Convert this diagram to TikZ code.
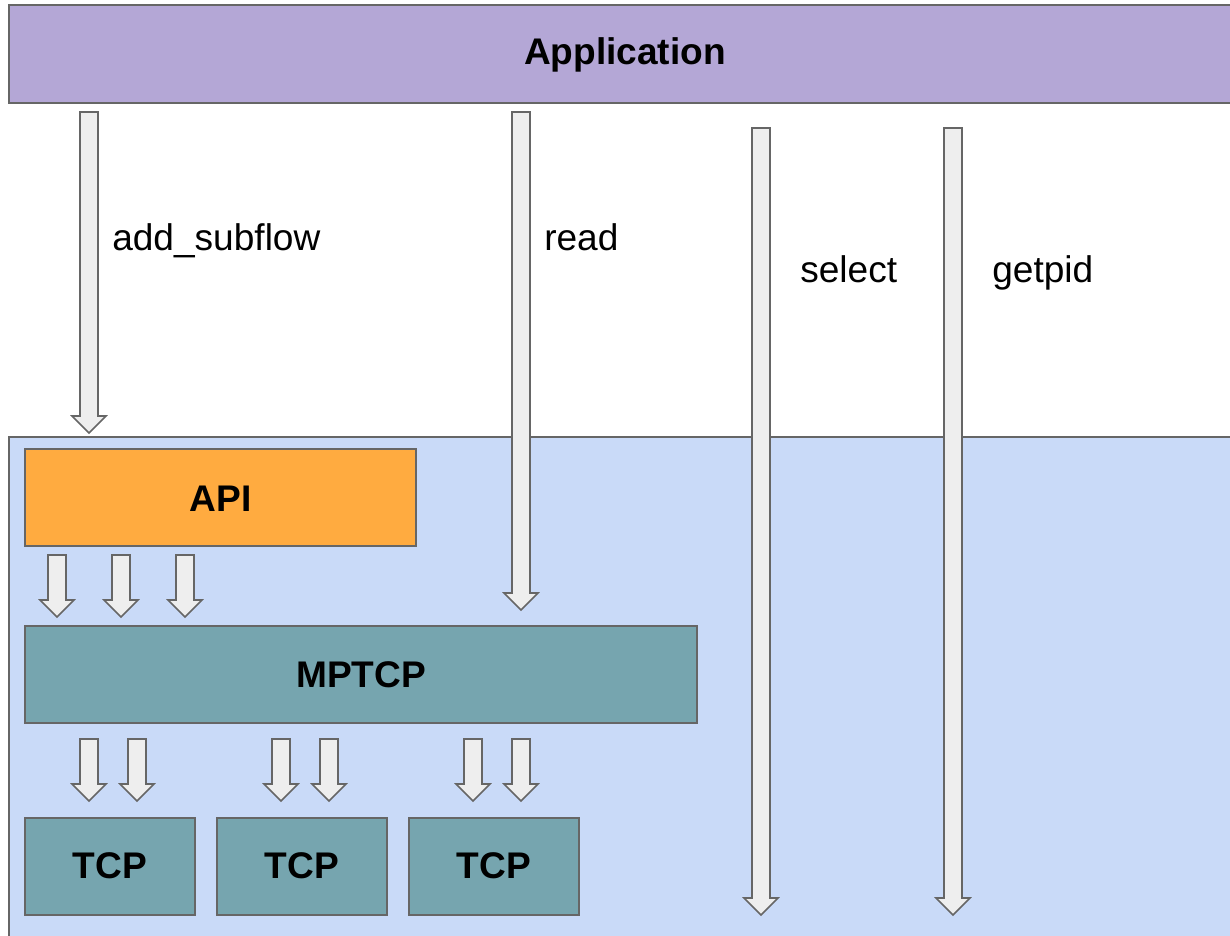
\documentclass[tikz,border=0pt]{standalone}
\usepackage{fontspec}
\setmainfont{Liberation Sans}
\usepackage{tikz}

\definecolor{appfill}{HTML}{B4A7D6}
\definecolor{kernfill}{HTML}{C9DAF8}
\definecolor{apifill}{HTML}{FFAB40}
\definecolor{tcpfill}{HTML}{76A5AF}
\definecolor{arrfill}{HTML}{EEEEEE}
\definecolor{edgegray}{HTML}{666666}

\tikzset{
  layerbox/.style={draw=edgegray,line width=1.5pt,inner sep=0pt},
  layername/.style={inner sep=0pt,font=\fontsize{27.8}{33}\selectfont\bfseries},
  callname/.style={anchor=base west,inner sep=0.75pt,font=\fontsize{27.8}{33}\selectfont},
  blockarr/.style={draw=edgegray,fill=arrfill,line width=1.2pt,line join=miter}
}

% block arrow: centre x, top y, tip y
\newcommand{\blockarrow}[3]{%
  \draw[blockarr] ({#1-9},#2) -- ({#1+9},#2) -- ({#1+9},{#3-17}) -- ({#1+17},{#3-17})
    -- (#1,#3) -- ({#1-17},{#3-17}) -- ({#1-9},{#3-17}) -- cycle ;}

\begin{document}
\begin{tikzpicture}[x=0.75pt,y=0.75pt,yscale=-1]
\useasboundingbox (0,0) rectangle (1230,935);
\fill[white] (0,0) rectangle (1230,935);

%Shape: Rectangle [id:app]
\draw[layerbox,fill=appfill] (9,5) rectangle (1240,103);
\node (app) at (625,55) [layername] {Application};
%Shape: Rectangle [id:kernel]
\draw[layerbox,fill=kernfill] (9,437) rectangle (1240,945);

% Boxes
\draw[layerbox,fill=apifill] (25,449) rectangle (416,546);
\node (api) at (220.5,499) [layername] {API};
\draw[layerbox,fill=tcpfill] (25,626) rectangle (697,723);
\node (mptcp) at (361,675) [layername] {MPTCP};
\foreach \i/\xl in {1/25,2/217,3/409} {
  \draw[layerbox,fill=tcpfill] (\xl,818) rectangle ({\xl+170},915);
  \node (tcp\i) at ({\xl+85},866) [layername] {TCP};
}

% Arrows from the application
\blockarrow{89}{112}{433}
\blockarrow{521}{112}{610}
\blockarrow{761}{128}{915}
\blockarrow{953}{128}{915}

% Arrows API -> MPTCP
\foreach \x in {57,121,185} {\blockarrow{\x}{555}{617}}
% Arrows MPTCP -> TCP
\foreach \x in {89,137,281,329,473,521} {\blockarrow{\x}{739}{801}}

% Text Node
\node (addsub) at (111,250) [callname] {add\_subflow};
% Text Node
\node (rd) at (543,250) [callname] {read};
% Text Node
\node (sel) at (799,282) [callname] {select};
% Text Node
\node (gpid) at (991,282) [callname] {getpid};

\end{tikzpicture}
\end{document}
